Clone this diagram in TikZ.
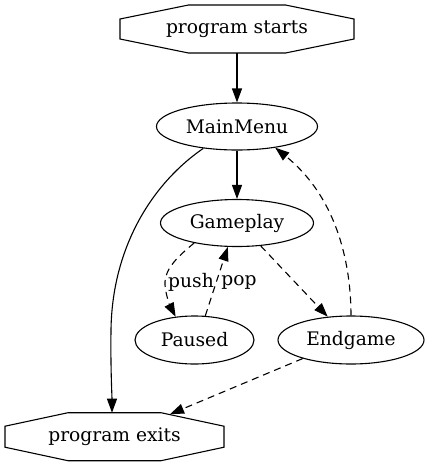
\documentclass[tikz,border=0pt]{standalone}
\usepackage{fontspec}
\setmainfont{DejaVu Serif}
\usetikzlibrary{arrows.meta,calc,shapes.geometric}
\newcommand{\octoshape}[5]{% name, half width, top half width, side half height, half height
  \draw[line width=1.1pt] ($(#1.center)+(-#3,-#5)$) -- ($(#1.center)+(#3,-#5)$) -- ($(#1.center)+(#2,-#4)$) -- ($(#1.center)+(#2,#4)$) -- ($(#1.center)+(#3,#5)$) -- ($(#1.center)+(-#3,#5)$) -- ($(#1.center)+(-#2,#4)$) -- ($(#1.center)+(-#2,-#4)$) -- cycle;}
\begin{document}
\begin{tikzpicture}[x=1pt,y=-1pt,
  every node/.style={font=\fontsize{18.67}{22}\selectfont, inner sep=0pt},
  state/.style={ellipse, draw, line width=1.1pt},
  octo/.style={rectangle, draw=none},
  edge/.style={line width=1.1pt, -{Triangle[length=14pt,width=10pt]}},
  dash edge/.style={edge, dash pattern=on 7pt off 5pt},
  lbl/.style={fill=none}]
\useasboundingbox (0,0) rectangle (429,467);
\node[octo, minimum width=234pt, minimum height=48pt] (st) at (237,29) {program starts};
\octoshape{st}{117}{48.5}{10}{24}
\node[state, minimum width=161pt, minimum height=47pt] (mm) at (237,126.5) {MainMenu};
\node[state, minimum width=153pt, minimum height=47pt] (gp) at (237,223) {Gameplay};
\node[state, minimum width=119pt, minimum height=48pt] (pa) at (194.5,340) {Paused};
\node[state, minimum width=146pt, minimum height=48pt] (eg) at (351,340) {Endgame};
\node[octo, minimum width=219pt, minimum height=48pt] (ex) at (114.5,436.7) {program exits};
\octoshape{ex}{109.5}{46.5}{10.5}{24}
\coordinate (exa) at ($(ex.center)+(-2.5,-24)$);
\coordinate (exb) at ($(ex.center)+(55.5,-22.5)$);
% edges
\draw[edge] (st.south) -- (mm.north);
\draw[edge] (mm.south) -- (gp.north);
\draw[edge] (mm.213) .. controls (150,185) and (112,250) .. (111,330) .. controls (110.5,370) and (112,395) .. (exa);
\draw[dash edge] (gp.205) .. controls (180,255) and (164,268) .. (165,285) .. controls (166,296) and (170,306) .. (pa.129);
\node[lbl] (lpush) at (191,282) {push};
\draw[dash edge] (pa.66) -- (gp.249);
\node[lbl] (lpop) at (239,282) {pop};
\draw[dash edge] (gp.-44) -- (eg.135);
\draw[dash edge] (eg.north) .. controls (351,270) and (340,200) .. (mm.-29);
\draw[dash edge] (eg.201) -- (exb);
\end{tikzpicture}
\end{document}
